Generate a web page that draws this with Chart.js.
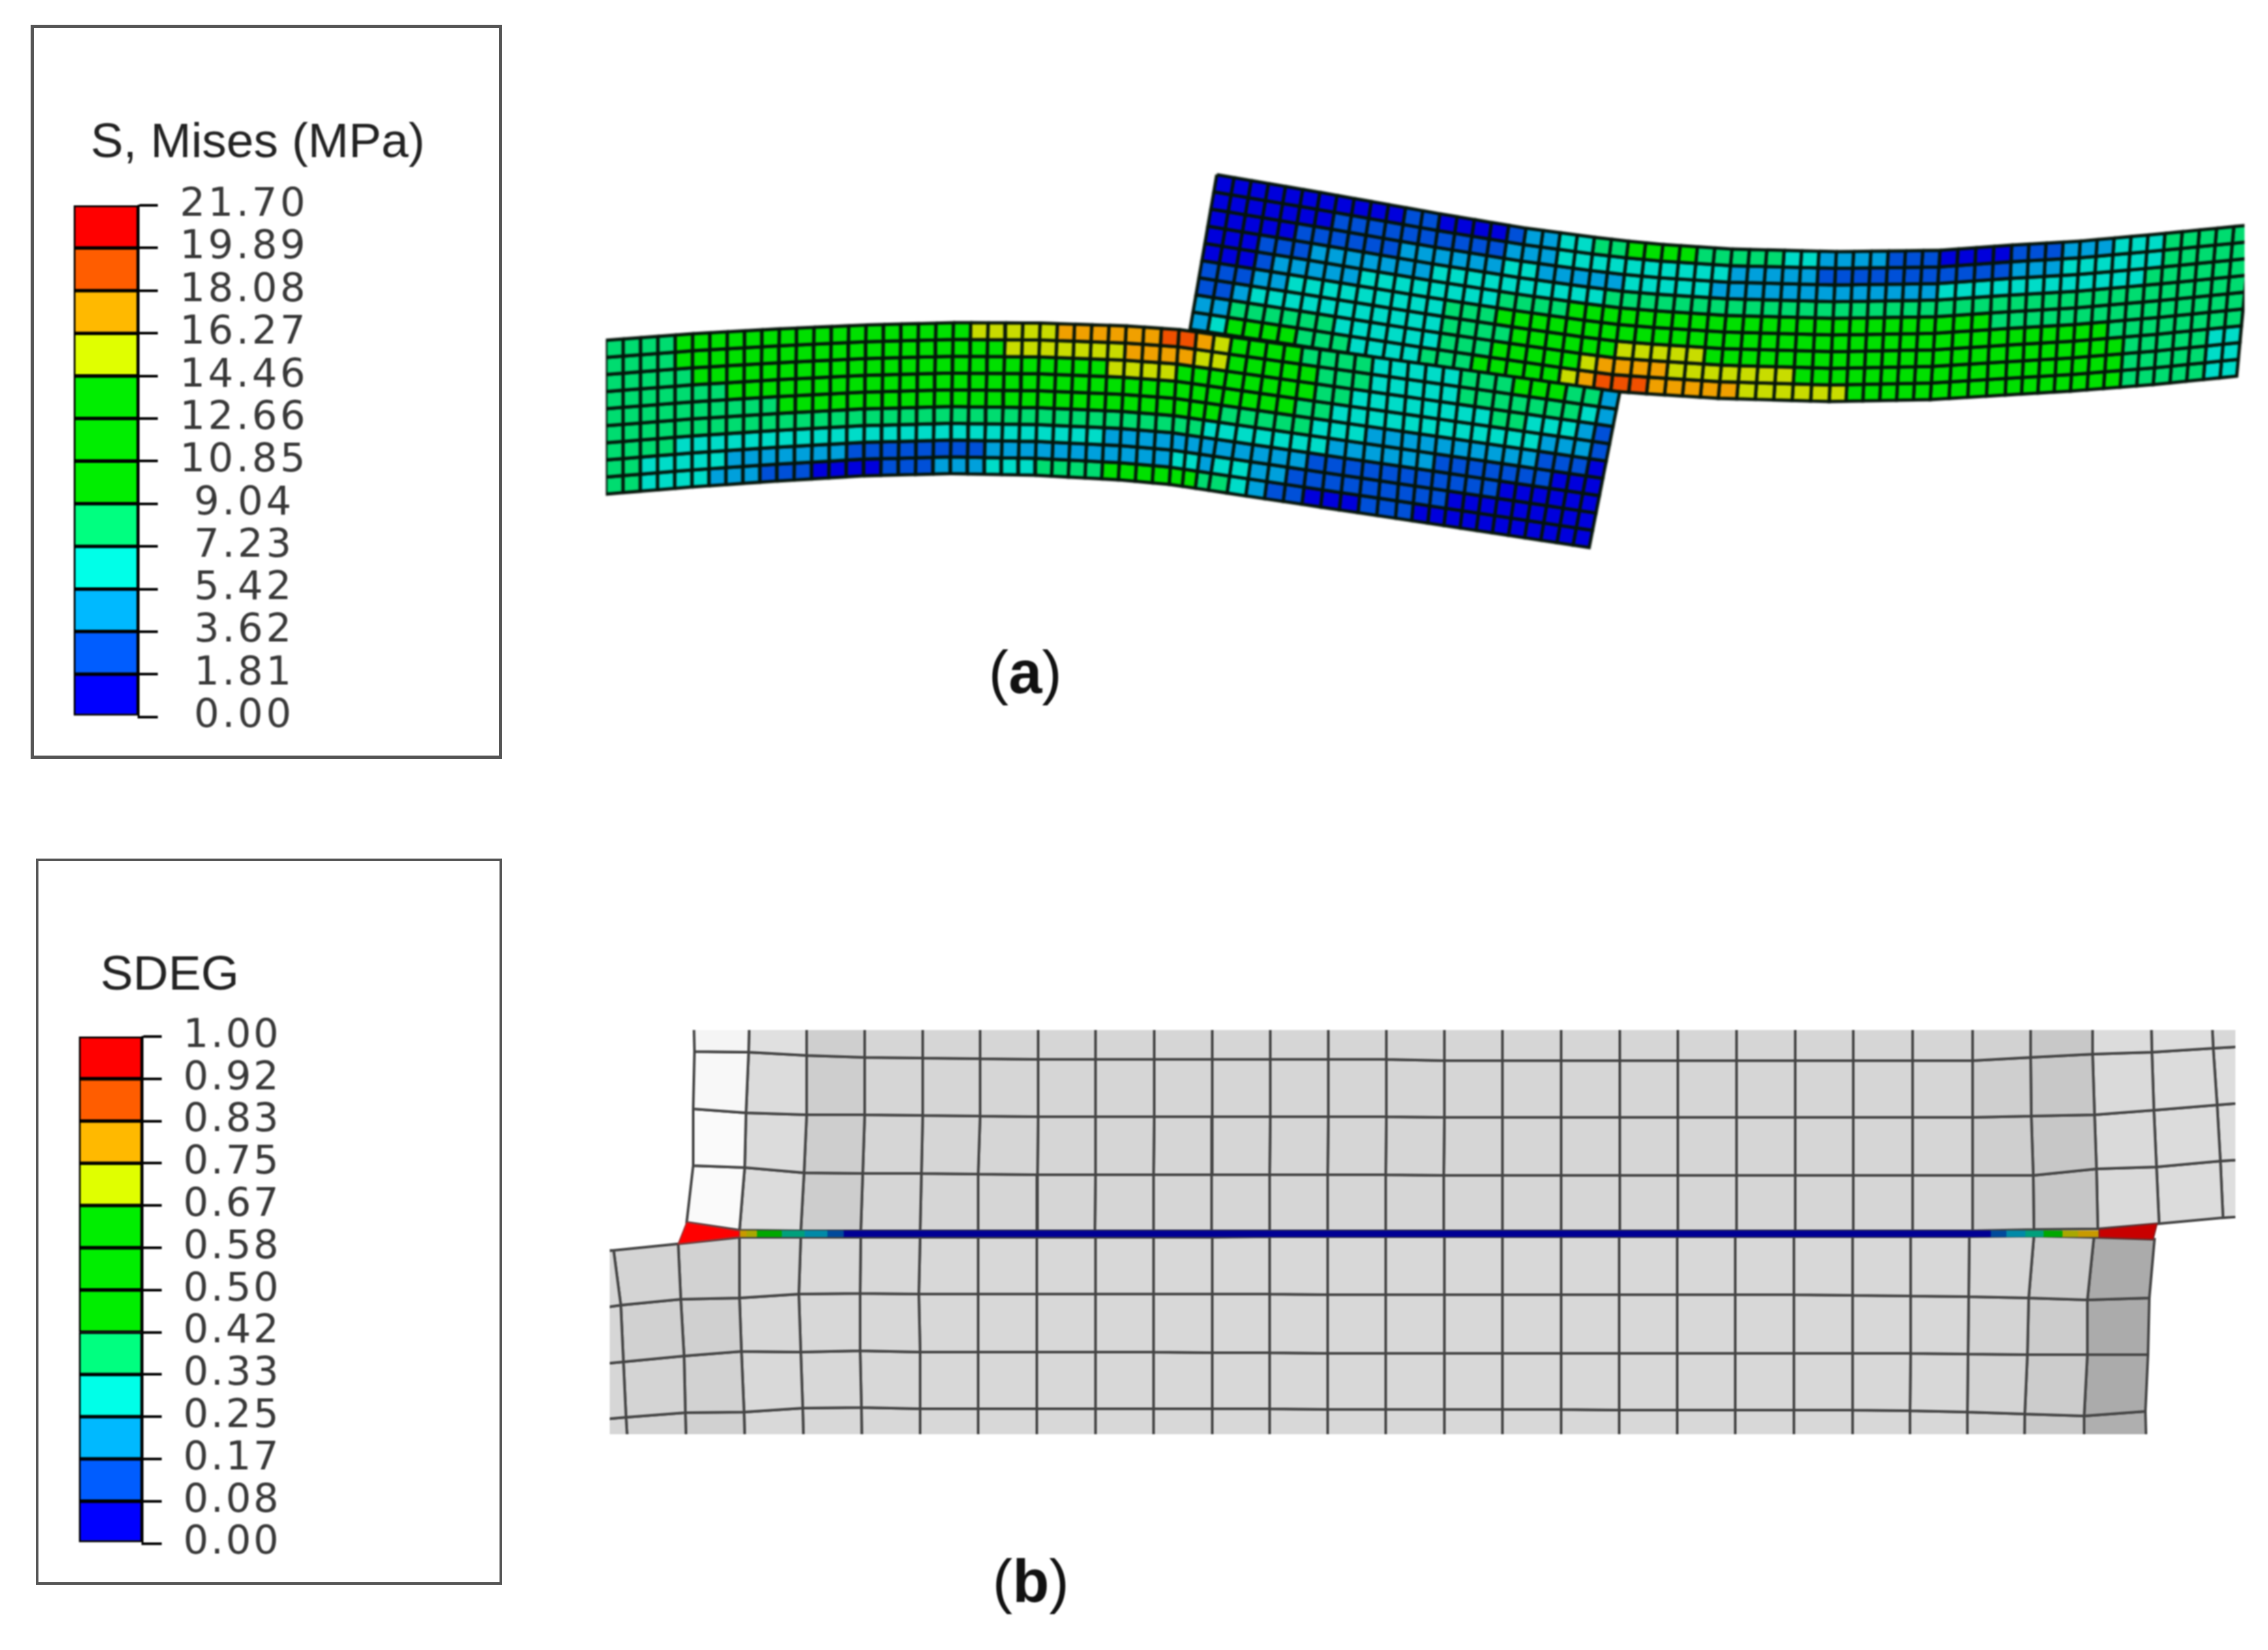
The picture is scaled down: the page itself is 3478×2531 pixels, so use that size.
<!DOCTYPE html>
<html>
<head>
<meta charset="utf-8">
<script src="https://cdn.jsdelivr.net/npm/chart.js@4"></script>
<style>
html,body{margin:0;padding:0;background:#fff;width:3478px;height:2531px;overflow:hidden}
.abs{position:absolute}
.box{position:absolute;box-sizing:border-box;border-style:solid;border-color:#555}
.tag{position:absolute;font-family:"Liberation Sans";font-size:92px;line-height:100px;color:#111;white-space:pre;filter:blur(.8px)}
.tag b{font-weight:700}
.ttl{position:absolute;font-family:"Liberation Sans";font-size:76px;line-height:100px;color:#222;white-space:pre;filter:blur(.8px)}
</style>
</head>
<body>
<div class="box" style="left:47px;top:38px;width:723px;height:1126px;border-width:5px"></div>
<div class="box" style="left:55px;top:1317px;width:715px;height:1114px;border-width:4px"></div>
<div class="ttl" style="left:139px;top:165px;font-size:75px">S, Mises (MPa)</div>
<div class="ttl" style="left:154px;top:1442px;font-size:75px">SDEG</div>
<canvas id="legA" class="abs" style="left:47px;top:38px;filter:blur(.8px)"></canvas>
<canvas id="legB" class="abs" style="left:55px;top:1317px;filter:blur(.8px)"></canvas>
<canvas id="meshA" class="abs" style="left:929px;top:250px;filter:blur(1.5px)"></canvas>
<canvas id="meshB" class="abs" style="left:935px;top:1580px;filter:blur(.9px)"></canvas>
<div class="tag" style="left:1516px;top:981px">(<b>a</b>)</div>
<div class="tag" style="left:1522px;top:2375px">(<b>b</b>)</div>
<script>
// ---------- legends ----------
const stressValues = [0,1.81,3.62,5.42,7.23,9.04,10.85,12.66,14.46,16.27,18.08,19.89,21.70];
const stressTickLabels = ['0.00','1.81','3.62','5.42','7.23','9.04','10.85','12.66','14.46','16.27','18.08','19.89','21.70'];
const sdegValues = [0,0.0833,0.1667,0.25,0.3333,0.4167,0.5,0.5833,0.6667,0.75,0.8333,0.9167,1];
const sdegTickLabels = ['0.00','0.08','0.17','0.25','0.33','0.42','0.50','0.58','0.67','0.75','0.83','0.92','1.00'];
const legendColors = ['#0000ff','#005dff','#00b9ff','#00ffe8','#00ff80','#00ee00','#00ee00','#00ee00','#e0ff00','#ffb900','#ff5d00','#ff0000'];
const meshColors = ['#0000dc','#0050d8','#00a0dc','#00dcc8','#00dc70','#00e000','#00e000','#00e000','#c8dc00','#f0a000','#f05000','#f00000'];

// ---------- (a) mesh: band index of each element, top row first, one hex digit per column ----------
const lowerBeamBands = [
 '4444 66666666666666666 88888 999999 aa 98 6666 4444 33333 444 6664 4 2',
 '4444 6666666666666666666 8888888 999 988 66666 444 33333 4444444 3 2',
 '44444 666666666666666666666666 8888 666 66666 44 33333333 44 333 2 1',
 '4444444 66666666666666666666666666666 6666 44 333333333333 22 2 1',
 '4444444444 66666666666666666666666666 44444 333 2222222222 111 0',
 '444444444444444444444444444444444 443 33333 3 222222 1111111 000',
 '4444 3333333333333333333333333 2222222 22222 11111111111 000000',
 '44 33333 2222222 11111111 22222222222 332 33 22 111111111 000000000',
 '44 3333 222 111 0000 111 222 333 4444 666666 4 4 3 2 11 000 111 00000000000'
];
const upperBeamBands = [
 '00000000000 11 0000 1 22 3 3 4 4 6666 4444 4 3 3 2222 111 0000 111 222 333 44444',
 '0000000 1111111111 222 3333333 333 22222 11111111111 222 333333 44444',
 '00000 111111 222222 33 22222 33333 2222222222222 333333333333 444444',
 '000 111 2222222 3333333333 4444444444444444444444444444444444444',
 '000 1 22222 33333333 4444 666666666666666666666666 444444444444444',
 '111 22 333333333 444 66666666666666666666666666666666666 44444444',
 '11 2 33333333333 4444 666666 88888 666666666666666666666666 44444 33',
 '22 444444 333333 444 66666 8 9999 8888888 6666666666666666666 44444 33',
 '2 3 6666 444 3333 444 66666 8 9 aaa 99999 888888 6666666666666666 44444 33'
];
// edge stations of each beam, measured along its curved outline
const lowerStationCols = [0,5,10,15,20,25,30,33,36,46,58];
const lowerTopX = [929,1062,1195,1328,1462,1595,1727,1808,1889,2160,2484];
const lowerTopY = [522,512,504.5,498.5,495,495.5,500,505.5,517,555,601];
const lowerBotX = [929,1061,1191,1324,1457,1587,1715,1793,1853,2140,2437];
const lowerBotY = [758,747,738,730,726.5,729,736,743,752,795,840];
const upperStationCols = [0,6,13,18,22,24,26,30,36,42,46,50,55,60];
const upperTopX = [1866,2024,2208,2340,2445,2497,2550,2656,2816,2975,3085,3190,3320,3452];
const upperTopY = [268,295,328,350,364,370,375,382,386,384,376,370,358,345];
const upperBotX = [1825,1985,2175,2308,2417,2470,2525,2635,2805,2960,3075,3175,3302,3430];
const upperBotY = [505,529,558,577,593,600,604,611,616,613,606,600,590,577];

// ---------- (b) mesh nodes ----------
const bUpperX = [
 [1063,1150,1237,1326,1415,1503,1592,1680,1770,1859,1948,2037,2126,2215,2304,2394,2484,2573,2663,2753,2842,2933,3025,3114,3209,3298,3390,3490],
 [1065,1148,1237,1326,1415,1503,1592,1680,1770,1859,1948,2037,2126,2215,2304,2394,2484,2573,2663,2753,2842,2933,3025,3114,3209,3300,3394,3495],
 [1063,1144,1237,1326,1415,1503,1592,1680,1770,1859,1948,2037,2126,2215,2304,2394,2484,2573,2663,2753,2842,2933,3025,3115,3212,3303,3400,3500],
 [1063,1142,1233,1323,1413,1500,1591,1680,1769,1858,1947,2036,2125,2214,2304,2394,2484,2573,2663,2753,2842,2933,3025,3118,3215,3307,3405,3505],
 [1053,1134,1228,1320,1411,1500,1590,1679,1769,1858,1947,2036,2125,2214,2304,2394,2484,2573,2663,2753,2842,2933,3025,3119,3217,3311,3409,3510]
];
const bUpperY = [
 [1525,1526,1531,1534,1535,1537,1538,1538,1538,1538,1538,1538,1538,1539,1539,1539,1539,1539,1539,1539,1539,1539,1539,1535,1530,1527,1521,1515],
 [1613,1614,1619,1622,1623,1624,1625,1625,1625,1625,1625,1625,1625,1627,1627,1627,1627,1627,1627,1627,1627,1627,1627,1622,1617,1614,1608,1602],
 [1701,1707,1710,1710,1711,1712,1713,1713,1713,1713,1713,1713,1713,1714,1714,1714,1714,1714,1714,1714,1714,1714,1714,1712,1710,1703,1695,1687],
 [1788,1791,1799,1800,1800,1801,1802,1802,1802,1802,1802,1802,1802,1803,1803,1803,1803,1803,1803,1803,1803,1803,1803,1803,1793,1790,1781,1774],
 [1875,1887,1888,1888,1888,1888,1888,1888,1888,1888,1888,1888,1888,1888,1888,1888,1888,1888,1888,1888,1888,1888,1888,1886,1885,1877,1868,1861]
];
const bLowerX = [
 [925,941,1040,1134,1228,1320,1411,1500,1590,1680,1769,1859,1947,2036,2125,2215,2304,2394,2483,2572,2661,2751,2841,2930,3020,3119,3211,3304],
 [925,952,1044,1134,1225,1319,1409,1500,1590,1680,1769,1859,1947,2036,2125,2215,2304,2394,2483,2572,2661,2751,2841,2930,3019,3111,3201,3296],
 [925,956,1049,1137,1228,1319,1411,1500,1590,1680,1769,1859,1947,2036,2125,2215,2304,2394,2483,2572,2661,2751,2841,2930,3018,3109,3201,3294],
 [925,960,1051,1141,1231,1321,1411,1500,1590,1680,1769,1859,1947,2036,2125,2215,2304,2394,2483,2572,2661,2751,2841,2929,3017,3105,3196,3290],
 [925,964,1053,1143,1233,1322,1411,1500,1590,1680,1769,1859,1947,2036,2125,2215,2304,2394,2483,2572,2661,2751,2841,2929,3017,3104,3196,3292]
];
const bLowerY = [
 [1919,1918,1908,1898,1898,1898,1898,1898,1898,1898,1898,1898,1897,1897,1897,1897,1897,1897,1897,1897,1897,1897,1897,1897,1897,1896,1898,1901],
 [2006,2002,1993,1991,1985,1984,1985,1985,1985,1985,1985,1985,1985,1986,1986,1986,1986,1986,1986,1986,1986,1986,1987,1988,1989,1991,1994,1991],
 [2092,2089,2080,2073,2074,2072,2074,2074,2074,2074,2074,2075,2075,2076,2076,2076,2076,2076,2076,2076,2076,2076,2076,2076,2077,2078,2078,2078],
 [2177,2174,2167,2166,2160,2159,2161,2161,2161,2161,2161,2161,2161,2162,2162,2162,2162,2162,2163,2163,2163,2163,2163,2164,2166,2169,2172,2165],
 [2240,2240,2240,2240,2240,2240,2240,2240,2240,2240,2240,2240,2240,2240,2240,2240,2240,2240,2240,2240,2240,2240,2240,2240,2240,2240,2240,2240]
];
// grey level of each element of (b), top row first
const bUpperGrey = [
 [245,224,207,214,214,214,214,214,214,214,214,214,214,214,214,214,214,214,214,214,214,214,210,200,220,222,216],
 [248,220,206,214,214,214,214,214,214,214,214,214,214,214,214,214,214,214,214,214,214,214,207,200,218,220,221],
 [250,220,206,214,214,214,214,214,214,214,214,214,214,214,214,214,214,214,214,214,214,214,207,199,218,220,221],
 [250,220,205,214,214,214,214,214,214,214,214,214,214,214,214,214,214,214,214,214,214,214,206,198,218,220,222]
];
const bLowerGrey = [
 [214,212,210,216,216,216,216,216,216,216,216,216,216,216,216,216,216,216,216,216,216,216,216,216,214,204,171],
 [214,209,208,216,216,216,216,216,216,216,216,216,216,216,216,216,216,216,216,216,216,216,216,216,212,204,171],
 [214,212,210,217,216,216,216,216,216,216,216,216,216,216,216,216,216,216,216,216,216,216,216,216,212,204,171],
 [214,212,209,217,216,216,216,216,216,216,216,216,216,216,216,216,216,216,216,216,216,216,216,216,212,202,175]
];
// cohesive layer between the two beams of (b): SDEG band per segment
const seamEdgesX = [1134,1144,1160,1198,1233,1268,1293,3052,3076,3105,3133,3162,3186,3206,3219];
const seamBands = [9,8,6,4,2,1,0,1,2,4,6,8,9,9];
const seamTopY = 1888, seamBotY = 1897;
const seamColors = ['#000094','#004a9c','#008aa8','#00a884','#00a07c','#00a800','#00a800','#00a800','#a8a800','#c89a00','#c85000','#c00000'];
const wedgeLeftX = [1053,1134,1134,1040,1053];
const wedgeLeftY = [1875,1888,1897,1908,1875];
const wedgeRightX = [3219,3308,3302,3219,3219];
const wedgeRightY = [1886,1877,1901,1898,1886];

// ---------- builders ----------
Chart.defaults.animation = false;
function polygon(xs, ys, fillColor, lineColor, lineWidth){
  return {type:'line', data: xs.map((x,i)=>({x, y:ys[i]})), backgroundColor:fillColor, borderColor:lineColor,
    borderWidth:lineWidth, fill:'shape', tension:0, pointRadius:0, clip:0, borderJoinStyle:'miter'};
}
function station(cols, vals, c){
  for(let k=0;k<cols.length-1;k++){
    if(c<=cols[k+1]) return vals[k]+(vals[k+1]-vals[k])*(c-cols[k])/(cols[k+1]-cols[k]);
  }
  return vals[vals.length-1];
}
function beamCells(table, cols, tx, ty, bx, by){
  const rows = table.map(s=>s.replace(/\s/g,''));
  const out = [];
  const node = (c,r)=>{
    const f=r/rows.length;
    const x0=station(cols,tx,c), y0=station(cols,ty,c), x1=station(cols,bx,c), y1=station(cols,by,c);
    return [x0+(x1-x0)*f, y0+(y1-y0)*f];
  };
  rows.forEach((row,r)=>{
    [...row].forEach((ch,c)=>{
      const a=node(c,r), b=node(c+1,r), d=node(c+1,r+1), e=node(c,r+1);
      out.push(polygon([a[0],b[0],d[0],e[0],a[0]],[a[1],b[1],d[1],e[1],a[1]],meshColors[parseInt(ch,16)],'#04140a',5));
    });
  });
  return out;
}
function gridCells(X,Y,G){
  const out=[];
  G.forEach((row,r)=>row.forEach((g,c)=>{
    out.push(polygon(
      [X[r][c],X[r][c+1],X[r+1][c+1],X[r+1][c],X[r][c]],
      [Y[r][c],Y[r][c+1],Y[r+1][c+1],Y[r+1][c],Y[r][c]],
      `rgb(${g},${g},${g})`,'#444',4));
  }));
  return out;
}
function pageChart(id,left,top,w,h,datasets){
  const cv=document.getElementById(id);
  cv.width=w;cv.height=h;cv.style.width=w+'px';cv.style.height=h+'px';
  return new Chart(cv,{type:'line',data:{datasets},options:{
    responsive:false,devicePixelRatio:1,events:[],layout:{padding:0},
    plugins:{legend:{display:false},tooltip:{enabled:false},title:{display:false}},
    scales:{x:{type:'linear',display:false,min:left,max:left+w},
            y:{type:'linear',display:false,reverse:true,min:top,max:top+h}}}});
}
function legendChart(id,w,h,values,labels,o){
  const cv=document.getElementById(id);
  cv.width=w;cv.height=h;cv.style.width=w+'px';cv.style.height=h+'px';
  const datasets=legendColors.map((col,i)=>({data:[[values[i],values[i+1]]],backgroundColor:col,borderColor:'#000',
    borderWidth:3,borderSkipped:false,barPercentage:1,categoryPercentage:1,grouped:false}));
  return new Chart(cv,{type:'bar',data:{labels:[''],datasets},
    plugins:[{id:'wideDigits',beforeDraw(chart){chart.ctx.letterSpacing=o.spacing;}}],
    options:{
    responsive:false,devicePixelRatio:1,events:[],
    layout:{padding:{left:o.pl,right:0,top:o.pt,bottom:o.pb}},
    plugins:{legend:{display:false},tooltip:{enabled:false},title:{display:false}},
    scales:{x:{display:false},
      y:{position:'right',min:values[0],max:values[12],
        afterBuildTicks:s=>{s.ticks=values.map(v=>({value:v}));},
        afterFit:s=>{s.width=w-o.chartRight;},
        grid:{drawOnChartArea:false,color:'#000',lineWidth:4,tickLength:30},
        border:{color:'#000',width:3},
        ticks:{autoSkip:false,callback:(v,i)=>labels[i],color:'#383838',padding:o.pad,crossAlign:'center',labelOffset:0,
          font:{family:'DejaVu Sans',size:61,lineHeight:1}}}}}});
}
legendChart('legA',723,1137,stressValues,stressTickLabels,{pl:66,pt:277,pb:44,chartRight:165,pad:45,spacing:'4.5px'});
legendChart('legB',715,1121,sdegValues,sdegTickLabels,{pl:66,pt:273,pb:61,chartRight:163,pad:40,spacing:'3.5px'});

pageChart('meshA',929,250,2513,620,[
  ...beamCells(lowerBeamBands,lowerStationCols,lowerTopX,lowerTopY,lowerBotX,lowerBotY),
  ...beamCells(upperBeamBands,upperStationCols,upperTopX,upperTopY,upperBotX,upperBotY)
]);
const seam = seamBands.map((b,i)=>polygon(
  [seamEdgesX[i],seamEdgesX[i+1],seamEdgesX[i+1],seamEdgesX[i],seamEdgesX[i]],
  [seamTopY,seamTopY,seamBotY,seamBotY,seamTopY],seamColors[b],seamColors[b],1));
pageChart('meshB',935,1580,2493,620,[
  polygon(wedgeLeftX,wedgeLeftY,'#ff0000','#a03030',2),
  polygon(wedgeRightX,wedgeRightY,'#c80000','#802020',2),
  ...seam,
  ...gridCells(bUpperX,bUpperY,bUpperGrey),
  ...gridCells(bLowerX,bLowerY,bLowerGrey)
]);
</script>
</body>
</html>
